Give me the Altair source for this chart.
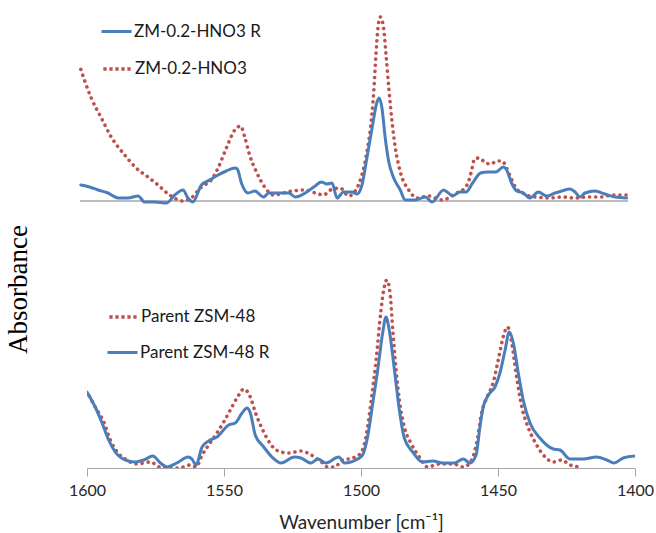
import altair as alt
import pandas as pd

# ---- data (wavenumber in cm-1, absorbance in arbitrary units) ----
top_red_wn = [1600, 1595.9, 1592.2, 1588.6, 1583.7, 1579.5, 1575.2, 1571.5, 1567.3, 1562.4, 1559.4, 1555.7,
              1552.1, 1549.6, 1546.6, 1543.5, 1541.4, 1539.9, 1538.1, 1535.6, 1532.6, 1529.4, 1522.6, 1517.8,
              1514.1, 1511.1, 1508.6, 1505, 1502, 1498.9, 1497.1, 1495.3, 1494, 1492.8, 1492, 1491.4, 1490.4,
              1489.2, 1488.3, 1487.3, 1486.1, 1484.9, 1483.1, 1480, 1477, 1472.7, 1470.3, 1467.8, 1465.5,
              1463.9, 1459.6, 1458.4, 1457.2, 1456, 1454.2, 1452, 1449.9, 1448.1, 1445.9, 1444.5, 1442.7,
              1440.9, 1438.4, 1436, 1433.6, 1428.7, 1423.8, 1419.6, 1414.7, 1409.9, 1405.6, 1400.7]
top_red_abs = [134, 103, 83, 64, 46, 33, 24, 16, 6, 0, 3, 14,
               21, 33, 53, 71, 75, 64, 46, 29, 14, 6, 10, 11,
               8, 6, 11, 13, 5, 13, 26, 49, 73, 109, 146, 169, 184,
               173, 146, 113, 79, 53, 29, 11, 3, 5, 3, 1, 3,
               6, 13, 18, 29, 42, 43, 38, 37, 40, 40, 34, 23,
               13, 8, 5, 4, 3, 4, 3, 4, 4, 6, 6]

top_blue_wn = [1599.7, 1596.5, 1593.4, 1589.8, 1586.1, 1582.5, 1578.8, 1576.4, 1572.7, 1568.5, 1565.4,
               1562.4, 1560.6, 1558.8, 1555.7, 1552.7, 1549.6, 1546.6, 1543.5, 1542.6, 1541.1, 1538.7,
               1536.2, 1533.0, 1531.1, 1526.3, 1523.8, 1521.4, 1517.8, 1514.7, 1511.9, 1509.9, 1508,
               1506.2, 1503.8, 1500.7, 1498.9, 1497.1, 1495.3, 1493.4, 1491.6, 1490.8, 1489.8, 1488.6,
               1487.3, 1485.5, 1483.1, 1481.3, 1477.6, 1474, 1471.5, 1467.3, 1466, 1463.9, 1461.6,
               1459.1, 1456.7, 1453.8, 1451.2, 1448.2, 1445.5, 1444.3, 1442.5, 1440.6, 1438.2, 1435.8,
               1432.7, 1429.7, 1426.6, 1424.2, 1421.2, 1419.3, 1417.5, 1415.7, 1412, 1408.4, 1404.7, 1400.5]
top_blue_abs = [16, 14, 11, 8, 3, 3, 5, -1, -1, -2, 6,
                11, 3, -1, 16, 21, 26, 30, 33, 32, 18, 8,
                10, 4, 8, 8, 8, 4, 8, 14, 19, 17, 18,
                3, 9, 9, 7, 16, 43, 73, 99, 103, 93, 63,
                39, 23, 11, 1, 1, 4, -1, 11, 9, 5, 9,
                9, 18, 28, 29, 29, 34, 31, 18, 10, 8, 3,
                9, 5, 8, 10, 12, 9, 4, 8, 10, 7, 4, 3]

bot_red_wn = [1600, 1597, 1593.9, 1591.5, 1589, 1586, 1581.8, 1576.9, 1572.6, 1566.5, 1562.3, 1560.2,
              1558, 1555.6, 1552.6, 1550.1, 1547.7, 1544.6, 1542.8, 1540.4, 1538.6, 1535.5, 1532.5,
              1529.2, 1526.2, 1521.9, 1519.5, 1517, 1514, 1512.2, 1509.7, 1506.7, 1503, 1500, 1498.2,
              1496.4, 1494.5, 1492.7, 1491.5, 1490.6, 1489.4, 1488.4, 1487.2, 1486, 1484.2, 1481.8,
              1478.7, 1475.7, 1471.4, 1466.3, 1462.7, 1459.6, 1457.8, 1456, 1454.1, 1451.7, 1449.9,
              1448.1, 1446.5, 1445, 1443.2, 1441.3, 1438.9, 1435.9, 1432.8, 1429.8, 1426.8, 1423.7,
              1420.9, 1418, 1400]
bot_red_abs = [76, 61, 46, 28, 16, 9, 4, 6, 0, 0, 3, 1,
               13, 23, 35, 46, 58, 73, 79, 71, 56, 36, 22,
               16, 15, 17, 15, 11, 5, 1, 1, 8, 10, 15, 31,
               65, 108, 158, 181, 188, 175, 138, 98, 68, 41, 25,
               11, 1, 4, 4, 1, 8, 25, 55, 70, 86, 108,
               131, 141, 125, 91, 61, 40, 23, 11, 6, 8, 3,
               1, -6, -8]

bot_blue_wn = [1600, 1597, 1594.5, 1592.1, 1589.7, 1586, 1582.4, 1579.3, 1576, 1573.2, 1570.8, 1567.2,
               1563.1, 1561.7, 1560.2, 1558, 1555.6, 1552.6, 1548.3, 1545.9, 1543.4, 1541.6, 1540.4,
               1538.6, 1535.5, 1532.5, 1529.2, 1524.3, 1521.9, 1518.2, 1515.8, 1512.8, 1508.1, 1506.1,
               1501.2, 1499.4, 1497.6, 1495.7, 1493.9, 1492.1, 1490.9, 1489.7, 1487.8, 1486, 1484.2,
               1481.1, 1477.5, 1473.8, 1470.2, 1465.9, 1462.7, 1460.2, 1458, 1456.6, 1455.4, 1453.5,
               1451.1, 1449.3, 1447.4, 1445.9, 1444.4, 1442.6, 1440.8, 1438.3, 1434.7, 1429.8, 1427.4,
               1423.7, 1418.9, 1414, 1410.3, 1407.7, 1404.3, 1400]
bot_blue_abs = [76, 61, 45, 28, 16, 8, 6, 8, 12, 5, 1, 5,
                11, 9, 3, 21, 27, 31, 43, 45, 55, 60, 55,
                33, 21, 11, 5, 11, 10, 5, 9, 5, 11, 5,
                9, 13, 31, 65, 98, 135, 151, 138, 98, 58, 30,
                16, 6, 7, 5, 5, 9, 5, 13, 41, 61, 73,
                81, 95, 118, 136, 125, 95, 68, 45, 30, 19, 18,
                9, 9, 11, 8, 5, 10, 12]

ticks = [1600, 1550, 1500, 1450, 1400]
OFFSET = 267  # vertical offset of the upper pair of spectra

BLUE = "#4a7ebb"
RED = "#c0504d"
FONT = "Lato"

# legend symbol for the dotted series: a row of short square dots
DOTS = "".join(f"M{c - 0.11:.2f},0h0.22" for c in (-0.8, -0.4, 0.0, 0.4, 0.8))


def frame(wn, ab, name, offset):
    return pd.DataFrame({"wn": wn, "a": [v + offset for v in ab], "s": name})


x_enc = alt.X("wn:Q",
              scale=alt.Scale(domain=[1400, 1600], reverse=True, nice=False, zero=False),
              axis=alt.Axis(values=ticks, title="Wavenumber [cm⁻¹]", grid=False,
                            labelFont=FONT, labelFontSize=16, labelColor="#262626", labelFlush=False,
                            titleFont=FONT, titleFontSize=19, titleFontWeight="normal",
                            titleColor="#262626", domainColor="#a6a6a6", tickColor="#a6a6a6",
                            tickSize=8, labelPadding=6, titlePadding=15, format="d"))
y_enc = alt.Y("a:Q",
              scale=alt.Scale(domain=[0, 458], nice=False, zero=False),
              axis=alt.Axis(title="Absorbance", domain=False, ticks=False, labels=False, grid=False,
                            titleFont="Liberation Serif", titleFontSize=27, titleFontWeight="normal",
                            titleColor="#000000", titlePadding=55, titleY=279))


def spectrum(df, name, color, dotted, top, lx, ly):
    legend = alt.Legend(orient="none", legendX=lx, legendY=ly, title=None, padding=0,
                        labelFont=FONT, labelFontSize=17, labelColor="#1a1a1a",
                        symbolType=DOTS if dotted else "stroke", symbolSize=900,
                        symbolStrokeWidth=3.4 if dotted else 3, labelOffset=1)
    props = dict(strokeWidth=3.6 if dotted else 3, strokeCap="round", strokeJoin="round",
                 interpolate="monotone")
    if dotted:
        props["strokeDash"] = [0.1, 6]
    if top:
        props["xOffset"] = -7
    else:
        props["clip"] = True
    return alt.Chart(df).mark_line(**props).encode(
        x=x_enc, y=y_enc,
        color=alt.Color("s:N", scale=alt.Scale(domain=[name], range=[color]), legend=legend),
        order="wn:Q",
    )


baseline = alt.Chart(pd.DataFrame({"wn": [ticks[0]], "wn2": [ticks[-1]], "a": [OFFSET]})).mark_rule(
    color="#a6a6a6", strokeWidth=1.5, xOffset=-7, x2Offset=-7
).encode(x=x_enc, x2="wn2:Q", y=y_enc)

l1 = spectrum(frame(top_blue_wn, top_blue_abs, "ZM-0.2-HNO3 R", OFFSET), "ZM-0.2-HNO3 R", BLUE, False, True, 13, 5)
l2 = spectrum(frame(top_red_wn, top_red_abs, "ZM-0.2-HNO3", OFFSET), "ZM-0.2-HNO3", RED, True, True, 13, 42)
l3 = spectrum(frame(bot_red_wn, bot_red_abs, "Parent ZSM-48", 0), "Parent ZSM-48", RED, True, False, 19, 290)
l4 = spectrum(frame(bot_blue_wn, bot_blue_abs, "Parent ZSM-48 R", 0), "Parent ZSM-48 R", BLUE, False, False, 19, 326)

chart = alt.layer(baseline, l2, l1, l3, l4).resolve_scale(color="independent").properties(
    width=548, height=458,
    autosize=alt.AutoSizeParams(type="none"),
    padding={"left": 87, "top": 10, "right": 21, "bottom": 65},
).configure(background="white").configure_view(strokeWidth=0)

chart.save("out.html", embed_options={"renderer": "svg", "actions": False})
